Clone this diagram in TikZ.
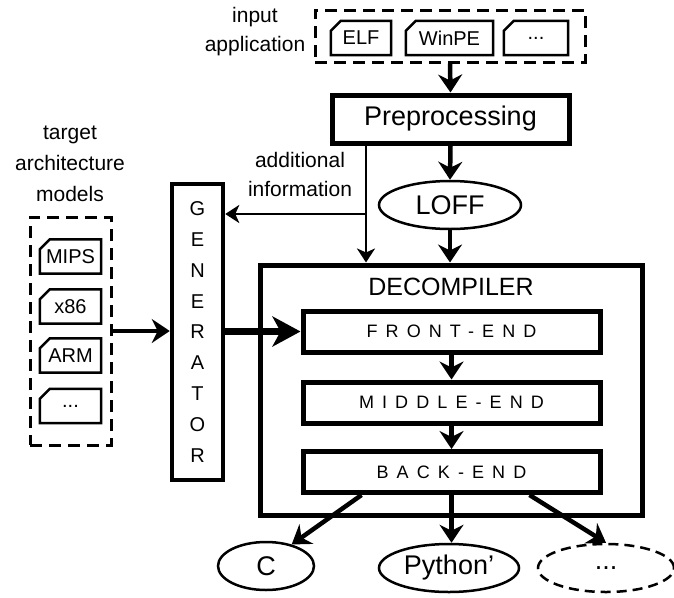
\documentclass[tikz,border=0pt]{standalone}
\usepackage{fontspec}
\setmainfont{Liberation Sans}
\newfontfamily\spacedfont[LetterSpace=45]{Liberation Sans}
\usetikzlibrary{positioning,arrows.meta,shapes.geometric}
\newcommand{\drawfile}[1]{\draw[line width=2.5pt,line join=miter] ([yshift=-10pt]#1.north west) -- ([xshift=10pt]#1.north west) -- (#1.north east) -- (#1.south east) -- (#1.south west) -- cycle;}

\begin{document}
\begin{tikzpicture}[x=1pt,y=-1pt,
  lb/.style={font=\fontsize{21}{29}\selectfont,align=center},
  fil/.style={font=\fontsize{20}{24}\selectfont,minimum height=34pt,inner sep=0pt},
  dbox/.style={draw,line width=3pt,dash pattern=on 12pt off 7pt,inner sep=0pt},
  tbox/.style={draw,line width=5pt,inner sep=0pt},
  stage/.style={tbox,minimum width=297pt,minimum height=41pt,font=\fontsize{18}{20}\spacedfont},
  ell/.style={draw,ellipse,line width=2.5pt,minimum height=48pt,inner sep=0pt,font=\fontsize{27}{30}\selectfont},
  arr/.style={line width=4.5pt,-{Stealth[length=18pt,width=24pt,inset=6pt]}},
  thin/.style={line width=2.5pt,-{Stealth[length=14pt,width=18pt,inset=4pt]}}]
\useasboundingbox (0,0) rectangle (674,597);

\node[dbox,minimum width=270pt,minimum height=52pt] (input) at (450,36) {};
\node[fil,minimum width=60pt] (elf) at (361,38) {ELF};
\node[fil,minimum width=87pt] (winpe) at (449.5,38) {WinPE};
\node[fil,minimum width=64pt] (more) at (536,38) {...};
\node[lb] (inlbl) at (255,32) {input\\application};

\node[tbox,minimum width=237pt,minimum height=48pt,font=\fontsize{27}{30}\selectfont] (pre) at (450.5,119) {Preprocessing};
\node[ell,minimum width=142pt] (loff) at (450,205) {LOFF};
\node[lb] (info) at (300,174) {additional\\information};

\node[lb,font=\fontsize{21}{31}\selectfont] (tlbl) at (70,164) {target\\architecture\\models};
\node[dbox,minimum width=81pt,minimum height=228pt] (arch) at (70.5,331) {};
\node[fil,minimum width=61pt] (mips) at (70.5,256.5) {MIPS};
\node[fil,minimum width=61pt] (x86) at (70.5,306.5) {x86};
\node[fil,minimum width=61pt] (arm) at (70.5,355.5) {ARM};
\node[fil,minimum width=61pt] (dots) at (70.5,406) {...};
\foreach \f in {elf,winpe,more,mips,x86,arm,dots} \drawfile{\f};

\node[tbox,line width=4.5pt,minimum width=51pt,minimum height=296pt,font=\fontsize{20}{30.8}\selectfont,align=center] (gen) at (197.5,332) {G\\E\\N\\E\\R\\A\\T\\O\\R};

\node[tbox,minimum width=382pt,minimum height=250pt] (dec) at (451,390) {};
\node[font=\fontsize{25}{28}\selectfont] (declbl) at (451,287) {DECOMPILER};
\node[stage] (front) at (451.5,331.5) {FRONT-END};
\node[stage] (middle) at (451.5,402.5) {MIDDLE-END};
\node[stage] (back) at (451.5,472) {BACK-END};

\node[ell,minimum width=96pt] (c) at (266,566) {C};
\node[ell,minimum width=140pt] (py) at (449,568) {Python'};
\node[ell,dash pattern=on 10pt off 6pt,minimum width=136pt] (etc) at (606,568) {...};

\draw[arr] (input.south) -- (pre.north);
\draw[arr] (pre.south) -- (loff.north);
\draw[arr] (loff.south) -- (loff.south |- dec.north);
\coordinate (split) at (366,214);
\draw[thin] (pre.south -| split) -- (split |- dec.north);
\draw[thin] (split) -- (split -| gen.east);
\draw[arr,line width=4pt] (arch.east) -- (arch.east -| gen.west);
\draw[line width=7pt,-{Stealth[length=28pt,width=30pt,inset=8pt]}] (gen.east |- front.west) -- (front.west);
\draw[arr] (front.south) -- (middle.north);
\draw[arr] (middle.south) -- (back.north);
\draw[arr] ([xshift=-90pt]back.south) -- (c.40);
\draw[arr] (back.south) -- (back.south |- py.north);
\draw[arr] ([xshift=78pt]back.south) -- (etc.north);
\end{tikzpicture}
\end{document}
